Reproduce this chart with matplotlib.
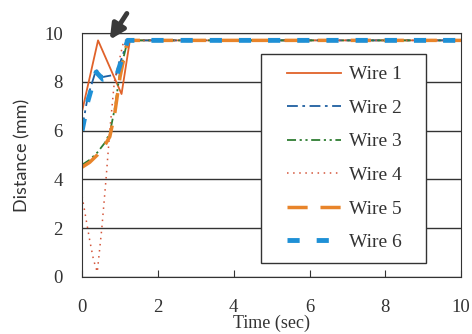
import matplotlib.pyplot as plt
from matplotlib.lines import Line2D
from matplotlib.legend_handler import HandlerLine2D

# data
t1 = [0, 0.42, 1.04, 1.26, 10]
d1 = [6.8, 9.7, 7.5, 9.7, 9.7]
t2 = [0, 0.15, 0.37, 0.55, 0.9, 1.2, 10]
d2 = [6.1, 7.4, 8.5, 8.2, 8.3, 9.7, 9.7]
t3 = [0, 0.2, 0.4, 0.6, 0.73, 0.86, 1.0, 1.2, 10]
d3 = [4.6, 4.8, 5.1, 5.5, 5.9, 6.9, 8.4, 9.7, 9.7]
t4 = [0, 0.1, 0.2, 0.3, 0.4, 0.52, 0.63, 0.73, 0.85, 1.1, 10]
d4 = [3.3, 2.4, 1.5, 0.7, 0.2, 2.0, 4.0, 6.0, 8.0, 9.7, 9.7]
t5 = [0, 0.2, 0.4, 0.6, 0.73, 0.86, 1.0, 1.2, 10]
d5 = [4.5, 4.7, 5.0, 5.4, 5.75, 6.7, 8.2, 9.7, 9.7]
t6 = [0, 0.15, 0.37, 0.55, 0.9, 1.2, 10]
d6 = [6.0, 7.2, 8.4, 8.1, 8.2, 9.7, 9.7]
labels = ['Wire 1', 'Wire 2', 'Wire 3', 'Wire 4', 'Wire 5', 'Wire 6']

serif = 'Liberation Serif'

fig = plt.figure(figsize=(4.72, 3.34), dpi=100)
ax = fig.add_axes([0.174, 0.171, 0.803, 0.730])

ax.plot(t1, d1, color='#e0622a', lw=1.3, ls='-', label=labels[0])
ax.plot(t2, d2, color='#1f5fa0', lw=1.3, ls=(0, (6, 2.5, 1.5, 2.5)), label=labels[1])
ax.plot(t3, d3, color='#2e7d32', lw=1.3, ls=(0, (5, 2, 1.2, 2, 1.2, 2)), label=labels[2])
ax.plot(t4, d4, color='#d4553a', lw=1.1, ls=(0, (1, 3)), label=labels[3])
ax.plot(t5, d5, color='#e8842a', lw=2.5, ls=(0, (5.8, 3.7)), label=labels[4])
ax.plot(t6, d6, color='#1e90d6', lw=3.5, ls=(0, (2.5, 3.5)), label=labels[5])

ax.set_xlim(0, 10)
ax.set_ylim(0, 10)
ax.set_xticks([0, 2, 4, 6, 8, 10])
ax.set_yticks([0, 2, 4, 6, 8, 10])
ax.yaxis.grid(True, color='#333333', lw=1)
ax.set_axisbelow(True)
for s in ax.spines.values():
    s.set_color('#333333')
ax.tick_params(axis='x', direction='in', length=5, pad=16, labelsize=13.5, colors='#333333')
ax.tick_params(axis='y', length=0, pad=14, labelsize=13.5, colors='#333333')
for lab in ax.get_xticklabels() + ax.get_yticklabels():
    lab.set_fontfamily(serif)

ax.set_xlabel('Time (sec)', fontfamily=serif, fontsize=13, labelpad=-1, color='#333333')
ax.set_ylabel('Distance (mm)', fontfamily='Lato', fontsize=13, labelpad=10, color='#333333')

# legend box stretched to the width of the original, handles pushed right
leg = ax.legend(loc='upper left', bbox_to_anchor=(0.472, 0.057, 0.436, 0.857), mode='expand',
                prop={'family': serif, 'size': 14},
                frameon=True, fancybox=False, edgecolor='#333333', framealpha=1,
                handlelength=3.5, handletextpad=0.45, labelspacing=0.82, borderpad=0.6,
                borderaxespad=0, handler_map={Line2D: HandlerLine2D(xpad=0.75)})
leg.get_frame().set_linewidth(1)
for txt in leg.get_texts():
    txt.set_color('#333333')

ax.annotate('', xy=(0.69, 9.63), xytext=(1.22, 10.9), annotation_clip=False,
            arrowprops=dict(arrowstyle='-|>', lw=3.5, mutation_scale=22, color='#3a3a3a'))

fig.savefig('out.png', dpi=100)
